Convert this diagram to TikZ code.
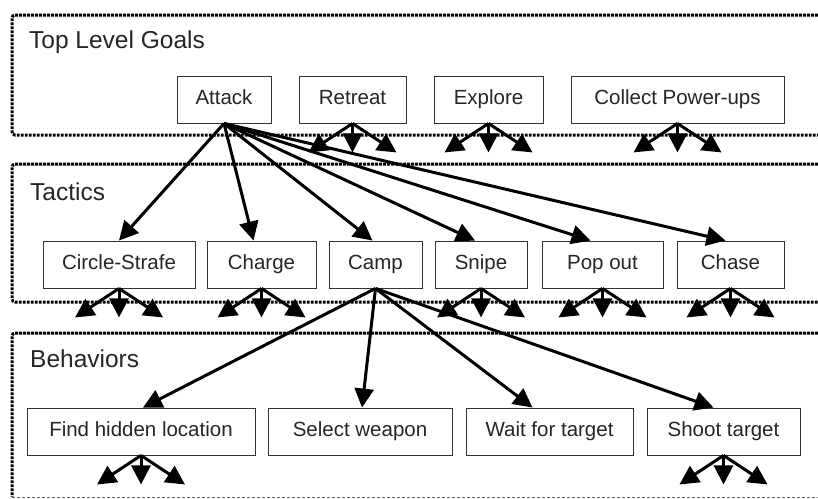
\documentclass[tikz,border=0pt]{standalone}
\usepackage{fontspec}
\setmainfont{Liberation Sans}
\usetikzlibrary{arrows.meta,calc}

\tikzset{
  panel/.style={line width=3pt, dash pattern=on 2.8pt off 1.2pt, rounded corners=3pt},
  thinedge/.style={line width=0.7pt, dash pattern=on 3pt off 2pt, black!60},
  goalbox/.style={draw=black!80, line width=0.9pt, fill=white, minimum height=47pt,
    inner sep=0pt, text height=14pt, text depth=5pt, text=black!85,
    font=\fontsize{20.5}{24}\selectfont},
  layertitle/.style={anchor=base west, inner sep=0pt, text=black!85,
    font=\fontsize{24.5}{28}\selectfont},
  arr/.style={line width=3pt, -{Triangle[length=19pt,width=19pt]}},
}

% three short arrows fanning out below a box
\newcommand\fanout[1]{%
  \coordinate (#1-l) at ($(#1.south)+(-44,29)$);
  \coordinate (#1-m) at ($(#1.south)+(0,29)$);
  \coordinate (#1-r) at ($(#1.south)+(44,29)$);
  \draw[arr] (#1.south) -- (#1-l);
  \draw[arr] (#1.south) -- (#1-m);
  \draw[arr] (#1.south) -- (#1-r);
}

\begin{document}
\begin{tikzpicture}[x=1pt,y=-1pt]
\useasboundingbox (0,0) rectangle (818,498);

% layer frames
\draw[panel] (830,15) -- (12,15) -- (12,135) -- (830,135);
\draw[panel] (830,164) -- (12,164) -- (12,302) -- (830,302);
\draw[panel] (830,333) -- (12,333) -- (12,497);
\draw[thinedge] (12,497) -- (830,497);

\node[layertitle] (t1) at (29,48) {Top Level Goals};
\node[layertitle] (t2) at (30,200) {Tactics};
\node[layertitle] (t3) at (30,367) {Behaviors};

% top level goals
\node[goalbox, minimum width=94pt]  (attack)  at (224,99.5)   {Attack};
\node[goalbox, minimum width=107pt] (retreat) at (352.5,99.5) {Retreat};
\node[goalbox, minimum width=109pt] (explore) at (488.5,99.5) {Explore};
\node[goalbox, minimum width=213pt] (collect) at (677.5,99.5) {Collect Power-ups};

% tactics
\node[goalbox, minimum width=152pt] (strafe) at (119,264.5)   {Circle-Strafe};
\node[goalbox, minimum width=109pt] (charge) at (261.5,264.5) {Charge};
\node[goalbox, minimum width=93pt]  (camp)   at (375.5,264.5) {Camp};
\node[goalbox, minimum width=92pt]  (snipe)  at (481,264.5)   {Snipe};
\node[goalbox, minimum width=121pt] (popout) at (602.5,264.5) {Pop out};
\node[goalbox, minimum width=107pt] (chase)  at (730.5,264.5) {Chase};

% behaviors
\node[goalbox, minimum width=228pt] (hide)   at (141,431.5)   {Find hidden location};
\node[goalbox, minimum width=184pt] (weapon) at (360,431.5)   {Select weapon};
\node[goalbox, minimum width=167pt] (wait)   at (549.5,431.5) {Wait for target};
\node[goalbox, minimum width=153pt] (shoot)  at (723.5,431.5) {Shoot target};

% Attack decomposes into tactics
\draw[arr] (attack.south) -- (strafe.north);
\draw[arr] (attack.south) -- ([xshift=-8pt]charge.north);
\draw[arr] (attack.south) -- ([xshift=-3pt]camp.north);
\draw[arr] (attack.south) -- ([xshift=-6pt]snipe.north);
\draw[arr] (attack.south) -- ([xshift=-12pt]popout.north);
\draw[arr] (attack.south) -- ([xshift=-5pt]chase.north);

% Camp decomposes into behaviors
\draw[arr] (camp.south) -- ([xshift=2pt]hide.north);
\draw[arr] (camp.south) -- ([xshift=2pt]weapon.north);
\draw[arr] (camp.south) -- ([xshift=-17pt]wait.north);
\draw[arr] (camp.south) -- ([xshift=-10pt]shoot.north);

% further decompositions, not expanded
\fanout{retreat}
\fanout{explore}
\fanout{collect}
\fanout{strafe}
\fanout{charge}
\fanout{snipe}
\fanout{popout}
\fanout{chase}
\fanout{hide}
\fanout{shoot}
\end{tikzpicture}
\end{document}
